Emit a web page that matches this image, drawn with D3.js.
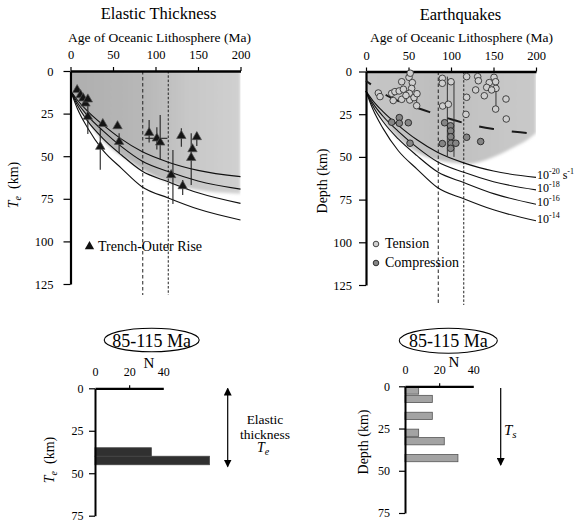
<!DOCTYPE html>
<html><head><meta charset="utf-8">
<script src="https://cdn.jsdelivr.net/npm/d3@7"></script>
<style>
body{margin:0;background:#fff;}
svg{display:block;font-family:"Liberation Serif","Times New Roman",serif;}
</style></head><body>
<svg id="chart" width="574" height="524"></svg>
<script>
// ---------- data ----------
const ageTicks=[0,50,100,150,200];
const depthTicks=[0,25,50,75,100,125];
const countTicks=[0,20,40];
const histDepthTicks=[0,25,50,75];
const ageWindow=[85,115];

// strain-rate model curves (age Ma, depth km)
const curveAges=[0,8,20,38,60,84,115,150,200];
const curve20=[11.5,17,23.5,31.5,40,47.3,53.5,58.3,62];
const curve18=[11.5,18.5,26.2,35,44.4,52.8,59,64.5,69.3];
const curve16=[11.5,20,29.3,39.5,49.3,58.7,65,71.5,77.7];
const curve14=[11.5,22,33.3,46.4,57.1,67.9,74.5,81,87.4];
const curveExp=["-20","-18","-16","-14"];

// shaded regions
const shadeTeAges=[0,10,20,35,50,70,85,100,120,140,160,180,200];
const shadeTeDepths=[11.5,21,29,39,46,53,58,62,66,69,70.5,71.5,72];
const shadeEqAges=[0,10,25,50,85,120,150,175,190,200];
const shadeEqDepths=[11,21,32,44,52,54,50,44,40,36];

// trench-outer rise elastic thickness
const trenchAge=[7.8,11.8,14.9,17.6,20.4,20.4,35,38,55.3,57.2,92.5,101.6,105.5,118.4,132,130.4,143.5,142,148.6];
const trenchTe=[11.1,14.1,16,19,16.6,26.8,44.4,31,32.3,41.5,36.2,39.5,41.9,61,67.5,38,45.8,50.9,38.7];
const teErrAge=[20.4,35,57.2,92.5,101.6,105.5,120.5,132,130.4,142,148.6];
const teErrLow=[19,34,36.6,28.8,33,25.8,46.4,64,33.6,36.6,36];
const teErrHigh=[37,58,48.3,42,46,52,78,72.8,44.4,66.9,44];
const teErrHDepth=[39.5], teErrHLow=[88], teErrHHigh=[114];

// earthquakes
const tensionAge=[14.5,16.5,30.2,32,34,39,42,42,44,50.6,52,54.5,53.7,51,51.5,56.5,60,59.6,47,
  89.8,89.8,100,90.2,96.9,
  118.4,131.4,132.2,150.6,145,152.5,142,152.9,129,118.4,139.2,164.7,152.5,117.6,165,147.8];
const tensionDepth=[12.6,14.7,12.8,17,11.8,11.4,16.3,6,10.4,3.4,1,6.5,9.9,12.8,16.7,15.3,13,20,14,
  4,6.9,6,20.2,19.2,
  3,3,5.4,3.4,6.5,6,9.3,9.9,10.8,15.1,14.2,16.1,22,25.1,27.8,10.8];
const compAge=[30.2,39.2,39.2,49.8,51.8,92.5,99.5,99.6,99.6,89.8,100,105.7,99.6,118.4,134.9];
const compDepth=[29.7,27,30.3,30,42,30,31.8,34.8,38.2,42.2,42,42,45,38.5,41];
const eqLineAge=[59.6,95.7,103.5,152.9];
const eqLineTop=[13,3,6,6];
const eqLineBottom=[20,50,50,22];
const tsAges=[0,10,25,50,75,100,125,150,175,196];
const tsDepths=[5.5,9,14.2,19.5,23.8,28,31.3,33.6,35.3,36.3];

// histograms 85-115 Ma
const teBinTop=[35,40], teBinBottom=[40,45], teBinCount=[33,67];
const eqBinTop=[0,5,15,25,30,40], eqBinBottom=[5,10,20,30,35,45], eqBinCount=[8,16,16,8,23,31];

// ---------- drawing ----------
const svg=d3.select("#chart");
const FONT='"Liberation Serif","Times New Roman",serif';
const defs=svg.append("defs");

function grad(id,stops){
  const g=defs.append("linearGradient").attr("id",id).attr("x1","0").attr("x2","1").attr("y1","0").attr("y2","0");
  stops.forEach(s=>g.append("stop").attr("offset",s[0]).attr("stop-color",s[1]));
}
grad("gTe",[["0%","#a9a9a9"],["45%","#b3b3b3"],["70%","#c4c4c4"],["100%","#cdcdcd"]]);
grad("gEq",[["0%","#c2c2c2"],["40%","#bababa"],["100%","#c6c6c6"]]);
defs.append("filter").attr("id","soft").attr("x","-10%").attr("y","-10%").attr("width","120%").attr("height","120%")
  .append("feGaussianBlur").attr("stdDeviation",1.6);
const stripe=defs.append("pattern").attr("id","stripe").attr("width",3).attr("height",4).attr("patternUnits","userSpaceOnUse");
stripe.append("rect").attr("width",1).attr("height",4).attr("fill","#fff").attr("opacity",0.18);
[["arrowEnd","M0,0 L8,4 L0,8 Z"]].forEach(([id,p])=>{
  defs.append("marker").attr("id",id).attr("viewBox","0 0 8 8").attr("refX",7).attr("refY",4)
   .attr("markerWidth",8).attr("markerHeight",8).attr("markerUnits","userSpaceOnUse").attr("orient","auto-start-reverse")
   .append("path").attr("d",p).attr("fill","#000");
});

function styleAxis(g,domW,fs){
  g.attr("font-family",FONT);
  g.select(".domain").attr("stroke","#000").attr("stroke-width",domW);
  g.selectAll(".tick line").attr("stroke","#000").attr("stroke-width",1.2);
  g.selectAll(".tick text").attr("fill","#000").attr("font-size",fs);
}
const zip=(a,b)=>a.map((v,i)=>[v,b[i]]);
const curves=[curve20,curve18,curve16,curve14];

function topPanel(cfg){
  const x=d3.scaleLinear([0,200],cfg.xr), y=d3.scaleLinear([0,125],cfg.yr);
  const g=svg.append("g");
  const clipId="clip"+cfg.id;
  defs.append("clipPath").attr("id",clipId).append("rect")
    .attr("x",x(0)).attr("y",y(0)).attr("width",x(200)-x(0)).attr("height",y(125)-y(0));
  const area=d3.area().x(d=>x(d[0])).y0(y(0)).y1(d=>y(d[1])).curve(d3.curveMonotoneX);
  const sh=g.append("g").attr("clip-path",`url(#${clipId})`);
  const shg=sh.append("g").attr("filter","url(#soft)");
  const pts=zip(cfg.shadeA,cfg.shadeD);
  shg.append("path").attr("d",area(pts)).attr("fill",`url(#${cfg.grad})`);
  shg.append("path").attr("d",area(pts)).attr("fill","url(#stripe)");
  // dashed age window
  ageWindow.forEach((a,i)=>g.append("line").attr("x1",x(a)).attr("x2",x(a)).attr("y1",y(0)).attr("y2",cfg.dashEnd)
    .attr("stroke","#222").attr("stroke-width",1).attr("stroke-dasharray",i?"2.5,1.8":"3.5,2.5"));
  // model curves
  const line=d3.line().x(d=>x(d[0])).y(d=>y(d[1])).curve(d3.curveMonotoneX);
  curves.forEach(c=>g.append("path").attr("d",line(zip(curveAges,c))).attr("fill","none").attr("stroke","#111").attr("stroke-width",1.1));
  // axes
  const ax=g.append("g").attr("transform",`translate(0,${y(0)})`)
    .call(d3.axisTop(x).tickValues(ageTicks).tickSize(4).tickSizeOuter(0).tickPadding(8));
  styleAxis(ax,2.6,"12.5px");
  const ay=g.append("g").attr("transform",`translate(${x(0)},0)`)
    .call(d3.axisLeft(y).tickValues(depthTicks).tickSize(7).tickSizeOuter(0).tickPadding(cfg.pad));
  styleAxis(ay,2.2,"12.5px");
  // titles
  g.append("text").attr("x",cfg.tx).attr("y",cfg.ty).attr("text-anchor","middle").attr("font-size","16.5px").text(cfg.title);
  g.append("text").attr("x",cfg.tx+1).attr("y",cfg.ty+22.3).attr("text-anchor","middle").attr("font-size","13.5px").text("Age of Oceanic Lithosphere (Ma)");
  return {g,x,y,line};
}

// ---- top-left: Elastic thickness ----
const L=topPanel({id:"L",xr:[70.5,240.5],yr:[71,284],shadeA:shadeTeAges,shadeD:shadeTeDepths,grad:"gTe",
  dashEnd:295,pad:10,tx:158.5,ty:19.3,title:"Elastic Thickness"});
// error bars
teErrAge.forEach((a,i)=>L.g.append("line").attr("x1",L.x(a)).attr("x2",L.x(a)).attr("y1",L.y(teErrLow[i])).attr("y2",L.y(teErrHigh[i]))
  .attr("stroke","#222").attr("stroke-width",1.1));
teErrHDepth.forEach((d,i)=>L.g.append("line").attr("x1",L.x(teErrHLow[i])).attr("x2",L.x(teErrHHigh[i])).attr("y1",L.y(d)).attr("y2",L.y(d))
  .attr("stroke","#222").attr("stroke-width",1.1));
const tri=d3.symbol().type(d3.symbolTriangle).size(38);
trenchAge.forEach((a,i)=>L.g.append("path").attr("d",tri()).attr("transform",`translate(${L.x(a)},${L.y(trenchTe[i])})`)
  .attr("fill","#151515").attr("stroke","#555").attr("stroke-width",0.7));
// legend
L.g.append("path").attr("d",tri()).attr("transform","translate(89.5,246.5)").attr("fill","#111");
L.g.append("text").attr("x",98).attr("y",251).attr("font-size","14px").text("Trench-Outer Rise");
// y label
const tl=L.g.append("text").attr("transform","translate(18,185) rotate(-90)").attr("text-anchor","middle").attr("font-size","14px");
tl.append("tspan").attr("font-style","italic").text("T");
tl.append("tspan").attr("font-style","italic").attr("font-size","10px").attr("dy",3).text("e");
tl.append("tspan").attr("dy",-3).text("\u00a0 (km)");

// ---- top-right: Earthquakes ----
const R=topPanel({id:"R",xr:[366,536],yr:[71.5,285],shadeA:shadeEqAges,shadeD:shadeEqDepths,grad:"gEq",
  dashEnd:305,pad:7,tx:460.5,ty:20,title:"Earthquakes"});
// Ts dashed line
R.g.append("path").attr("d",R.line(zip(tsAges,tsDepths))).attr("fill","none").attr("stroke","#1a1a1a")
  .attr("stroke-width",2).attr("stroke-dasharray","15,18").attr("stroke-dashoffset",9);
eqLineAge.forEach((a,i)=>R.g.append("line").attr("x1",R.x(a)).attr("x2",R.x(a)).attr("y1",R.y(eqLineTop[i])).attr("y2",R.y(eqLineBottom[i]))
  .attr("stroke","#333").attr("stroke-width",1));
tensionAge.forEach((a,i)=>R.g.append("circle").attr("cx",R.x(a)).attr("cy",R.y(tensionDepth[i])).attr("r",3.3)
  .attr("fill","#cfcfcf").attr("stroke","#333").attr("stroke-width",0.9));
compAge.forEach((a,i)=>R.g.append("circle").attr("cx",R.x(a)).attr("cy",R.y(compDepth[i])).attr("r",3.3)
  .attr("fill","#858585").attr("stroke","#222").attr("stroke-width",0.9));
// curve labels
curves.forEach((c,i)=>{
  const t=R.g.append("text").attr("x",R.x(200)+1).attr("y",R.y(c[c.length-1])+2).attr("font-size","12px");
  t.append("tspan").text("10");
  t.append("tspan").attr("font-size","8px").attr("dy",-5).text(curveExp[i]);
  if(i===0){ t.append("tspan").attr("dy",5).text(" s"); t.append("tspan").attr("font-size","8px").attr("dy",-5).text("-1"); }
});
// legend
R.g.append("circle").attr("cx",376).attr("cy",244).attr("r",2.8).attr("fill","#cfcfcf").attr("stroke","#333").attr("stroke-width",0.9);
R.g.append("circle").attr("cx",376).attr("cy",263).attr("r",2.8).attr("fill","#858585").attr("stroke","#222").attr("stroke-width",0.9);
R.g.append("text").attr("x",385).attr("y",248).attr("font-size","14px").text("Tension");
R.g.append("text").attr("x",385).attr("y",266.5).attr("font-size","14px").text("Compression");
R.g.append("text").attr("transform","translate(327,181) rotate(-90)").attr("text-anchor","middle").attr("font-size","14px").text("Depth (km)");

// ---- bottom histograms ----
function hist(cfg){
  const x=d3.scaleLinear([0,40],cfg.xr), y=d3.scaleLinear([0,75],cfg.yr);
  const g=svg.append("g");
  g.append("ellipse").attr("cx",cfg.ex).attr("cy",cfg.ey).attr("rx",cfg.erx).attr("ry",cfg.ery).attr("fill","none").attr("stroke","#000").attr("stroke-width",1.1);
  g.append("text").attr("x",cfg.ex).attr("y",cfg.ey+6.5).attr("text-anchor","middle").attr("font-size","18px").text("85-115 Ma");
  g.append("text").attr("x",cfg.nx).attr("y",cfg.ny).attr("text-anchor","middle").attr("font-size","15px").text("N");
  cfg.top.forEach((t,i)=>g.append("rect").attr("x",x(0)).attr("y",y(t)+cfg.inset).attr("width",x(cfg.count[i])-x(0))
    .attr("height",y(cfg.bottom[i])-y(t)-2*cfg.inset).attr("fill",cfg.fill).attr("stroke",cfg.stroke).attr("stroke-width",0.8));
  const ax=g.append("g").attr("transform",`translate(0,${y(0)})`)
    .call(d3.axisTop(x).tickValues(countTicks).tickSize(3).tickSizeOuter(0).tickPadding(9));
  styleAxis(ax,2.2,"12px");
  ax.selectAll(".tick line").filter(d=>d===0||d===40).remove();
  const ay=g.append("g").attr("transform",`translate(${x(0)},0)`)
    .call(d3.axisLeft(y).tickValues(histDepthTicks).tickSize(6).tickSizeOuter(0).tickPadding(cfg.pad));
  styleAxis(ay,2,"12px");
  return {g,x,y};
}
const BL=hist({xr:[95,163.3],yr:[388.3,515.7],ex:151.7,ey:340,erx:47.5,ery:11.8,nx:149,ny:368.3,
  top:teBinTop,bottom:teBinBottom,count:teBinCount,fill:"#303030",stroke:"#444",inset:0,pad:5.5});
const bt=BL.g.append("text").attr("transform","translate(54,460) rotate(-90)").attr("text-anchor","middle").attr("font-size","14px");
bt.append("tspan").attr("font-style","italic").text("T");
bt.append("tspan").attr("font-style","italic").attr("font-size","10px").attr("dy",3).text("e");
bt.append("tspan").attr("dy",-3).text("\u00a0 (km)");
BL.g.append("line").attr("x1",227.7).attr("x2",227.7).attr("y1",388.5).attr("y2",466.5).attr("stroke","#000").attr("stroke-width",1.2)
  .attr("marker-start","url(#arrowEnd)").attr("marker-end","url(#arrowEnd)");
BL.g.append("text").attr("x",265).attr("y",423.5).attr("text-anchor","middle").attr("font-size","13.5px").text("Elastic");
BL.g.append("text").attr("x",265).attr("y",438.5).attr("text-anchor","middle").attr("font-size","13.5px").text("thickness");
const et=BL.g.append("text").attr("x",263).attr("y",452).attr("text-anchor","middle").attr("font-size","14px");
et.append("tspan").attr("font-style","italic").text("T");
et.append("tspan").attr("font-style","italic").attr("font-size","10px").attr("dy",3).text("e");

const BR=hist({xr:[405,473.3],yr:[386.3,513],ex:448.3,ey:340.7,erx:49,ery:12.5,nx:454,ny:366.7,
  top:eqBinTop,bottom:eqBinBottom,count:eqBinCount,fill:"#a3a3a3",stroke:"#555",inset:0.6,pad:9});
BR.g.append("text").attr("transform","translate(368,442) rotate(-90)").attr("text-anchor","middle").attr("font-size","14px").text("Depth (km)");
BR.g.append("line").attr("x1",500.7).attr("x2",500.7).attr("y1",388).attr("y2",465).attr("stroke","#000").attr("stroke-width",1.2)
  .attr("marker-end","url(#arrowEnd)");
const ts=BR.g.append("text").attr("x",504).attr("y",435).attr("font-size","15px").attr("font-style","italic");
ts.append("tspan").text("T");
ts.append("tspan").attr("font-size","11px").attr("dy",3).text("s");
</script></body></html>
